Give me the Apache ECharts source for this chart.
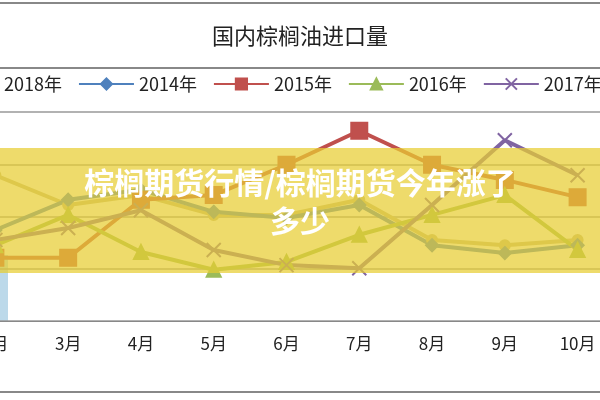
<!DOCTYPE html>
<html><head><meta charset="utf-8">
<script src="https://cdn.jsdelivr.net/npm/echarts@6/dist/echarts.min.js"></script>
</head><body style="margin:0">
<div id="chart" style="width:600px;height:400px"></div>
<script>
var months = ['2月','3月','4月','5月','6月','7月','8月','9月','10月'];
var s2018 = [279,222,241,203,203,232,155,145,155];
var s2014 = [174,232,251,209,197,222,145,130,145];
var s2015 = [121,121,232,241,299,364,299,270,237];
var s2016 = [145,203,132,98,113,165,203,241,136];
var s2017 = [155,178,212,136,107,101,222,346,279];

function line(name, data, color, symbol, size){
  return {name:name, type:'line', data:data, symbol:symbol, symbolSize:size,
    lineStyle:{width:4, color:color}, itemStyle:{color:color, borderColor:color, borderWidth:2}};
}
var chart = echarts.init(document.getElementById('chart'));
chart.setOption({
  animation:false,
  title:{text:'国内棕榈油进口量', left:'center', top:20,
    textStyle:{fontSize:22, fontWeight:'normal', color:'#222', fontFamily:'Noto Sans CJK SC'}},
  legend:{left:-62, top:70, width:900, itemWidth:55, itemHeight:14, itemGap:16,
    textStyle:{fontSize:18, color:'#222', fontFamily:'Noto Sans CJK SC'},
    data:['2018年','2014年','2015年','2016年','2017年']},
  grid:{left:-41, right:-14, top:112, height:209, outerBoundsMode:'none', containLabel:false},
  xAxis:{type:'category', data:months, boundaryGap:true,
    axisLine:{lineStyle:{color:'#888'}}, axisTick:{lineStyle:{color:'#888'}},
    axisLabel:{fontSize:17, color:'#222', margin:14, fontFamily:'Noto Sans CJK SC'}},
  yAxis:{type:'value', min:0, max:400, interval:100, axisLabel:{show:false},
    splitLine:{lineStyle:{color:'#999', width:1.5}}},
  series:[
    line('2018年', s2018, '#c4bb8a', 'circle', 10),
    line('2014年', s2014, '#4f81bd', 'diamond', 12),
    line('2015年', s2015, '#c0504d', 'rect', 16),
    line('2016年', s2016, '#9bbb59', 'triangle', 14),
    line('2017年', s2017, '#8064a2', 'path://M0,0L10,10M10,0L0,10', 14)
  ],
  graphic:[
    {type:'line', shape:{x1:0,y1:3,x2:600,y2:3}, style:{stroke:'#888', lineWidth:2}},
    {type:'line', shape:{x1:0,y1:68,x2:600,y2:68}, style:{stroke:'#888', lineWidth:2}},
    {type:'line', shape:{x1:0,y1:392,x2:600,y2:392}, style:{stroke:'#888', lineWidth:2}},
    {type:'rect', shape:{x:0,y:255,width:8,height:66}, style:{fill:'#bcd9ea'}},
    {type:'rect', z:100, shape:{x:0,y:148,width:600,height:125}, style:{fill:'rgba(232,205,50,0.72)'}},
    {type:'text', z:101, x:300, y:164,
      style:{text:'棕榈期货行情/棕榈期货今年涨了\n多少', fill:'#fff', align:'center',
        font:'bold 30px "Noto Sans CJK SC"', lineHeight:38}}
  ]
});
</script>
</body></html>
